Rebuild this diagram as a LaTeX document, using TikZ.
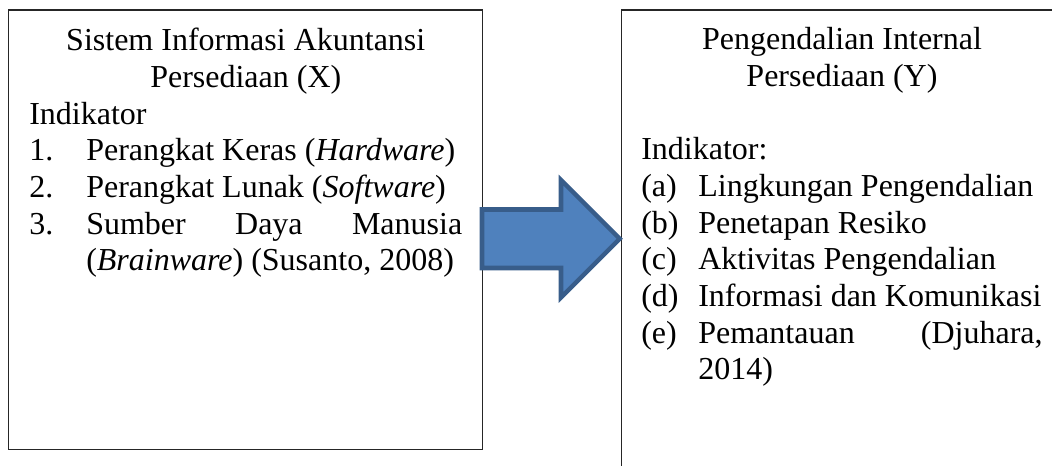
\documentclass[tikz,border=0pt]{standalone}
\usepackage{fontspec}
\setmainfont{Liberation Serif}
\usetikzlibrary{positioning}
\definecolor{arrowfill}{HTML}{4F81BD}
\definecolor{arrowline}{HTML}{385D8A}
\tikzstyle{framebox} = [rectangle, draw=black!85, line width=0.8pt, inner sep=0pt, anchor=north west]
\tikzstyle{boxtext} = [inner sep=0pt, align=justify, font=\fontsize{24}{27.5}\selectfont]
\tikzstyle{blockarrow} = [fill=arrowfill, draw=arrowline, line width=3.4pt, line join=miter]
\newcommand{\inditem}[2]{\par\noindent\hangindent=42.75pt\hangafter=1\makebox[42.75pt][l]{#1}#2\par}
\hyphenpenalty=10000
\exhyphenpenalty=10000

\begin{document}
\begin{tikzpicture}[x=0.75pt, y=-0.75pt]
                \useasboundingbox (0,0) rectangle (1052,466);
                \clip (0,0) rectangle (1052,466);

                \node (boxX) [framebox, minimum width=355.3pt, minimum height=329.4pt] at (8,9.5) {};
                \node (boxY) [framebox, right=103.7pt of boxX.north east, anchor=north west, minimum width=330pt, minimum height=375pt] {};

                \node (textX) [boxtext, text width=324.75pt, below right=13.9pt and 15.75pt of boxX.north west] {%
                    {\centering Sistem Informasi Akuntansi\\Persediaan (X)\par}
                    \noindent Indikator\par
                    \inditem{1.}{Perangkat Keras (\textit{Hardware})}
                    \inditem{2.}{Perangkat Lunak (\textit{Software})}
                    \inditem{3.}{Sumber Daya Manusia\linebreak (\textit{Brainware}) (Susanto, 2008)}};
                \node (textY) [boxtext, text width=301pt, below right=13.5pt and 15pt of boxY.north west] {%
                    {\centering Pengendalian Internal\\Persediaan (Y)\par}
                    \vskip\baselineskip
                    \noindent Indikator:\par
                    \inditem{(a)}{Lingkungan Pengendalian}
                    \inditem{(b)}{Penetapan Resiko}
                    \inditem{(c)}{Aktivitas Pengendalian}
                    \inditem{(d)}{Informasi dan Komunikasi}
                    \inditem{(e)}{Pemantauan (Djuhara,\linebreak 2014)}};

                % block arrow from X to Y
                \draw [blockarrow] (482,209.5) -- (561,209.5) -- (561,180) -- (619.7,238.75) -- (561,297.5) -- (561,268) -- (482,268) -- cycle;
            \end{tikzpicture}
\end{document}
